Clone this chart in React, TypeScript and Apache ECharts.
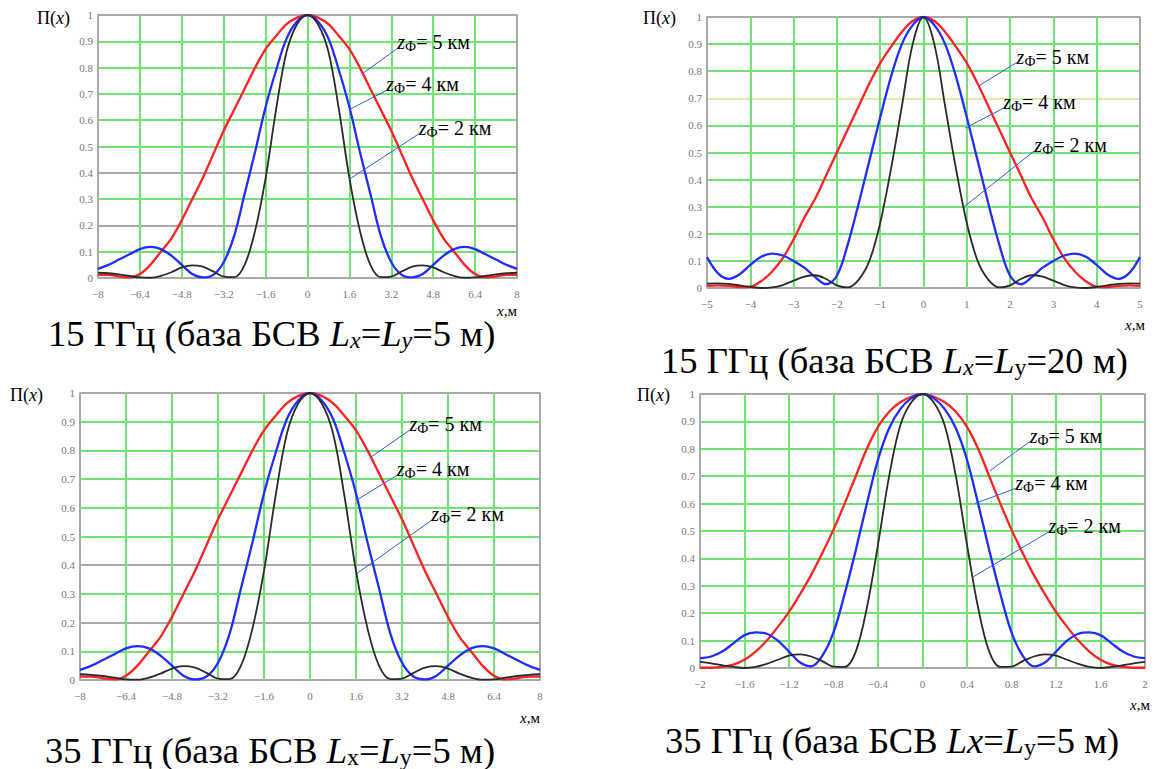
import React, { useEffect, useRef } from "react";
import * as echarts from "echarts";

// ---------- DATA ----------
// Panels 1 and 3 (x from -8 to 8 m)
const X_8 = [-8, -7.6, -7.2, -6.8, -6.4, -6, -5.6, -5.2, -4.8, -4.4, -4, -3.6, -3.2, -2.8, -2.4, -2, -1.6, -1.2, -0.8, -0.4, 0, 0.4, 0.8, 1.2, 1.6, 2, 2.4, 2.8, 3.2, 3.6, 4, 4.4, 4.8, 5.2, 5.6, 6, 6.4, 6.8, 7.2, 7.6, 8];
const RED_8 = [0.012, 0.012, 0.006, 0.002, 0.015, 0.05, 0.1, 0.15, 0.22, 0.3, 0.38, 0.47, 0.56, 0.64, 0.72, 0.8, 0.87, 0.92, 0.965, 0.99, 1.0, 0.99, 0.965, 0.92, 0.87, 0.8, 0.72, 0.64, 0.56, 0.47, 0.38, 0.3, 0.22, 0.15, 0.1, 0.05, 0.015, 0.002, 0.006, 0.012, 0.012];
const BLUE_8 = [0.035, 0.05, 0.07, 0.09, 0.11, 0.118, 0.11, 0.085, 0.05, 0.015, 0.002, 0.012, 0.06, 0.16, 0.32, 0.48, 0.65, 0.79, 0.91, 0.975, 1.0, 0.975, 0.91, 0.79, 0.65, 0.48, 0.32, 0.16, 0.06, 0.012, 0.002, 0.015, 0.05, 0.085, 0.11, 0.118, 0.11, 0.09, 0.07, 0.05, 0.035];
const BLACK_8 = [0.02, 0.018, 0.014, 0.008, 0.002, 0.001, 0.008, 0.022, 0.04, 0.048, 0.043, 0.025, 0.005, 0.003, 0.05, 0.18, 0.38, 0.64, 0.86, 0.965, 1.0, 0.965, 0.86, 0.64, 0.38, 0.18, 0.05, 0.003, 0.005, 0.025, 0.043, 0.048, 0.04, 0.022, 0.008, 0.001, 0.002, 0.008, 0.014, 0.018, 0.02];

// Panel 2 (x from -5 to 5 m)
const X_5 = [-5, -4.75, -4.5, -4.25, -4, -3.75, -3.5, -3.25, -3, -2.75, -2.5, -2.25, -2, -1.75, -1.5, -1.25, -1, -0.75, -0.5, -0.25, 0, 0.25, 0.5, 0.75, 1, 1.25, 1.5, 1.75, 2, 2.25, 2.5, 2.75, 3, 3.25, 3.5, 3.75, 4, 4.25, 4.5, 4.75, 5];
const RED_5 = [0.008, 0.01, 0.008, 0.003, 0.005, 0.025, 0.06, 0.11, 0.18, 0.26, 0.33, 0.415, 0.5, 0.585, 0.67, 0.755, 0.83, 0.89, 0.945, 0.985, 1.0, 0.985, 0.945, 0.89, 0.83, 0.755, 0.67, 0.585, 0.5, 0.415, 0.33, 0.26, 0.18, 0.11, 0.06, 0.025, 0.005, 0.003, 0.008, 0.01, 0.008];
const BLUE_5 = [0.114, 0.055, 0.034, 0.05, 0.085, 0.115, 0.127, 0.12, 0.1, 0.075, 0.04, 0.014, 0.045, 0.16, 0.31, 0.47, 0.63, 0.78, 0.9, 0.97, 1.0, 0.97, 0.9, 0.78, 0.63, 0.47, 0.31, 0.16, 0.045, 0.014, 0.04, 0.075, 0.1, 0.12, 0.127, 0.115, 0.085, 0.05, 0.034, 0.055, 0.114];
const BLACK_5 = [0.016, 0.017, 0.015, 0.01, 0.004, 0.0, 0.002, 0.011, 0.027, 0.042, 0.047, 0.033, 0.01, 0.002, 0.03, 0.1, 0.24, 0.44, 0.67, 0.9, 1.0, 0.9, 0.67, 0.44, 0.24, 0.1, 0.03, 0.002, 0.01, 0.033, 0.047, 0.042, 0.027, 0.011, 0.002, 0.0, 0.004, 0.01, 0.015, 0.017, 0.016];

// Panel 4 (x from -2 to 2 m)
const X_2 = [-2, -1.9, -1.8, -1.7, -1.6, -1.5, -1.4, -1.3, -1.2, -1.1, -1, -0.9, -0.8, -0.7, -0.6, -0.5, -0.4, -0.3, -0.2, -0.1, 0, 0.1, 0.2, 0.3, 0.4, 0.5, 0.6, 0.7, 0.8, 0.9, 1, 1.1, 1.2, 1.3, 1.4, 1.5, 1.6, 1.7, 1.8, 1.9, 2];
const RED_2 = [0.001, 0.001, 0.004, 0.012, 0.03, 0.06, 0.1, 0.15, 0.205, 0.27, 0.34, 0.42, 0.505, 0.6, 0.7, 0.8, 0.88, 0.935, 0.97, 0.99, 1.0, 0.99, 0.97, 0.935, 0.88, 0.8, 0.7, 0.6, 0.505, 0.42, 0.34, 0.27, 0.205, 0.15, 0.1, 0.06, 0.03, 0.012, 0.004, 0.001, 0.001];
const BLUE_2 = [0.036, 0.042, 0.06, 0.09, 0.12, 0.13, 0.125, 0.1, 0.06, 0.02, 0.006, 0.045, 0.13, 0.27, 0.43, 0.6, 0.76, 0.875, 0.945, 0.985, 1.0, 0.985, 0.945, 0.875, 0.76, 0.6, 0.43, 0.27, 0.13, 0.045, 0.006, 0.02, 0.06, 0.1, 0.125, 0.13, 0.12, 0.09, 0.06, 0.042, 0.036];
const BLACK_2 = [0.022, 0.017, 0.01, 0.004, 0.0, 0.004, 0.015, 0.03, 0.045, 0.05, 0.042, 0.025, 0.005, 0.004, 0.06, 0.22, 0.45, 0.7, 0.885, 0.97, 1.0, 0.97, 0.885, 0.7, 0.45, 0.22, 0.06, 0.004, 0.005, 0.025, 0.042, 0.05, 0.045, 0.03, 0.015, 0.004, 0.0, 0.004, 0.01, 0.017, 0.022];

// Curve labels (z_Ф in km) with leader start (at label) and end (at curve), in data units
const LABELS_KM = ["5", "4", "2"];
const LEAD_P1 = [[[3.43, 0.873], [2.1, 0.777]], [[3.01, 0.713], [1.59, 0.64]], [[4.25, 0.548], [1.59, 0.375]]];
const LEAD_P2 = [[[2.15, 0.832], [1.27, 0.745]], [[1.84, 0.663], [0.96, 0.59]], [[2.56, 0.506], [0.94, 0.3]]];
const LEAD_P3 = [[[3.46, 0.87], [2.08, 0.774]], [[3.02, 0.713], [1.64, 0.628]], [[4.22, 0.556], [1.64, 0.372]]];
const LEAD_P4 = [[[0.963, 0.826], [0.607, 0.72]], [[0.834, 0.655], [0.47, 0.6]], [[1.132, 0.496], [0.445, 0.33]]];

const CAPTIONS = [
  "{n|15 ГГц (база БСВ }{i|L}{s|x}{n|=}{i|L}{s|y}{n|=5 м)}",
  "{n|15 ГГц (база БСВ }{i|L}{s|x}{n|=}{i|L}{u|у}{n|=20 м)}",
  "{n|35 ГГц (база БСВ }{i|L}{u|х}{n|=}{i|L}{u|у}{n|=5 м)}",
  "{n|35 ГГц (база БСВ }{i|Lx}{n|=}{i|L}{u|у}{n|=5 м)}",
];

// ---------- STYLE / LAYOUT ----------
const SERIF = "Liberation Serif";
const GREEN = "#72e272";
const GRAY = "#a9a9a9";
const PALE = "#dcefa8";

const PANELS = [
  { x: X_8, red: RED_8, blue: BLUE_8, black: BLACK_8, min: -8, max: 8, step: 1.6, lead: LEAD_P1,
    box: { left: 98, top: 15, width: 419, height: 263 },
    yColors: [GRAY, GREEN, GRAY, GREEN, GRAY, GREEN, GREEN, GREEN, GREEN, GREEN, GRAY],
    pi: [37, 18], xm: [517, 311], cap: [48, 333] },
  { x: X_5, red: RED_5, blue: BLUE_5, black: BLACK_5, min: -5, max: 5, step: 1, lead: LEAD_P2,
    box: { left: 707, top: 17, width: 433, height: 271 },
    yColors: [GRAY, GREEN, GREEN, GREEN, GREEN, GREEN, GREEN, PALE, GREEN, GREEN, GRAY],
    pi: [643, 18], xm: [1145, 325], cap: [661, 360] },
  { x: X_8, red: RED_8, blue: BLUE_8, black: BLACK_8, min: -8, max: 8, step: 1.6, lead: LEAD_P3,
    box: { left: 80, top: 393, width: 460, height: 287 },
    yColors: [GRAY, GREEN, GRAY, GREEN, GRAY, GREEN, GREEN, GREEN, GREEN, GREEN, GRAY],
    pi: [10, 395], xm: [540, 718], cap: [45, 750] },
  { x: X_2, red: RED_2, blue: BLUE_2, black: BLACK_2, min: -2, max: 2, step: 0.4, lead: LEAD_P4,
    box: { left: 700, top: 394, width: 445, height: 274 },
    yColors: [GRAY, GREEN, GREEN, GREEN, GREEN, GREEN, GREEN, GREEN, GREEN, GREEN, GRAY],
    pi: [637, 395], xm: [1150, 705], cap: [665, 740] },
];

const X_COLORS = [GRAY, GREEN, GREEN, GREEN, GREEN, GREEN, GREEN, GREEN, GREEN, GREEN, GRAY];

const fmtTick = (v: number) => {
  const r = Math.round(v * 10) / 10;
  return (r < 0 ? "−" : "") + String(Math.abs(r));
};

const leaderRich = {
  z: { fontFamily: SERIF, fontSize: 20, fontStyle: "italic", color: "#000", lineHeight: 23 },
  f: { fontFamily: SERIF, fontSize: 14, color: "#000", lineHeight: 14, verticalAlign: "bottom" },
  t: { fontFamily: SERIF, fontSize: 20, color: "#000", lineHeight: 23 },
};

const capRich = {
  n: { fontFamily: SERIF, fontSize: 36.5, fill: "#000", lineHeight: 37 },
  i: { fontFamily: SERIF, fontSize: 36.5, fontStyle: "italic", fill: "#000", lineHeight: 37 },
  s: { fontFamily: SERIF, fontSize: 24, fontStyle: "italic", fill: "#000", lineHeight: 18, verticalAlign: "bottom" },
  u: { fontFamily: SERIF, fontSize: 24, fill: "#000", lineHeight: 18, verticalAlign: "bottom" },
};

const smallRich = {
  n: { fontFamily: SERIF, fontSize: 18, fill: "#000", lineHeight: 22 },
  i: { fontFamily: SERIF, fontSize: 18, fontStyle: "italic", fill: "#000", lineHeight: 22 },
  m: { fontFamily: SERIF, fontSize: 15, fill: "#000", lineHeight: 18 },
  j: { fontFamily: SERIF, fontSize: 15, fontStyle: "italic", fill: "#000", lineHeight: 18 },
};

function buildOption() {
  const grid: any[] = [];
  const xAxis: any[] = [];
  const yAxis: any[] = [];
  const series: any[] = [];
  const graphic: any[] = [];

  PANELS.forEach((p, i) => {
    grid.push({ ...p.box, show: true, borderColor: "#9c9c9c", borderWidth: 1.5, backgroundColor: "#fff" });
    xAxis.push({
      type: "value", gridIndex: i, min: p.min, max: p.max, interval: p.step,
      axisLine: { show: false }, axisTick: { show: false },
      axisLabel: { fontFamily: SERIF, fontSize: 11, color: "#777", margin: 10, formatter: fmtTick },
      splitLine: { show: true, lineStyle: { color: X_COLORS, width: 2 } },
    });
    yAxis.push({
      type: "value", gridIndex: i, min: 0, max: 1, interval: 0.1,
      axisLine: { show: false }, axisTick: { show: false },
      axisLabel: { fontFamily: SERIF, fontSize: 11, color: "#777", margin: 5, formatter: fmtTick },
      splitLine: { show: true, lineStyle: { color: p.yColors, width: 2 } },
    });
    const curves = [
      { name: "5", data: p.red, color: "#ff2222", width: 2.3 },
      { name: "4", data: p.blue, color: "#1f2dff", width: 2.3 },
      { name: "2", data: p.black, color: "#2a2a2a", width: 1.8 },
    ];
    curves.forEach((c, k) => {
      const [from, to] = p.lead[k];
      series.push({
        type: "line", xAxisIndex: i, yAxisIndex: i, name: "z=" + c.name,
        data: p.x.map((xv, j) => [xv, c.data[j]]),
        showSymbol: false, smooth: 0.35, clip: true,
        lineStyle: { color: c.color, width: c.width },
        itemStyle: { color: c.color },
        markLine: {
          silent: true, symbol: ["none", "none"], animation: false,
          lineStyle: { color: "#2c5fd6", width: 1, type: "solid" },
          label: { show: false },
          data: [[{ coord: from }, { coord: to }]],
        },
        markPoint: {
          silent: true, symbol: "circle", symbolSize: 0, animation: false,
          data: [{
            coord: from,
            label: {
              show: true, position: "right", distance: 0, offset: [0, -6],
              formatter: () => "{z|z}{f|Ф}{t|= " + LABELS_KM[k] + " км}",
              rich: leaderRich,
            },
          }],
        },
      });
    });
    graphic.push({
      type: "text", x: p.pi[0], y: p.pi[1],
      style: { text: "{n|Π(}{i|x}{n|)}", rich: smallRich, fill: "#000", align: "left", verticalAlign: "middle" },
    });
    graphic.push({
      type: "text", x: p.xm[0], y: p.xm[1],
      style: { text: "{j|x}{m|,м}", rich: smallRich, fill: "#000", align: "right", verticalAlign: "middle" },
    });
    graphic.push({
      type: "text", x: p.cap[0], y: p.cap[1],
      style: { text: CAPTIONS[i], rich: capRich, fill: "#000", align: "left", verticalAlign: "middle" },
    });
  });

  return { animation: false, backgroundColor: "#fff", textStyle: { fontFamily: SERIF }, grid, xAxis, yAxis, series, graphic };
}

export default function App() {
  const ref = useRef<HTMLDivElement>(null);
  useEffect(() => {
    if (!ref.current) return;
    const chart = echarts.init(ref.current, undefined, { renderer: "svg" });
    chart.setOption(buildOption() as any);
    return () => chart.dispose();
  }, []);
  return (
    <div
      ref={ref}
      style={{ position: "fixed", left: 0, top: 0, width: 1155, height: 769, background: "#fff" }}
    />
  );
}
